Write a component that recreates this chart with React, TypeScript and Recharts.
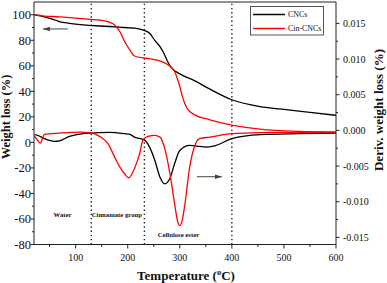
import React from "react";
import { ComposedChart, Line, XAxis, YAxis, ReferenceLine, Legend } from "recharts";

const FONT = "'Liberation Serif', 'Times New Roman', serif";

// weight loss (%) - left axis
const cncWeightTemp = [21, 40, 60, 70, 88, 100, 127, 146, 165, 185, 204, 213, 233, 242, 252, 262, 271, 276, 285, 300, 329, 358, 400, 454, 492, 550, 600];
const cncWeight = [100, 98.4, 95.9, 94.5, 93.3, 92.6, 91.7, 91.2, 90.8, 90.3, 89.7, 89.5, 87.5, 85.5, 80, 75, 68.5, 63.8, 58, 53.7, 48.2, 41.7, 33.4, 28.1, 26.2, 23.5, 21.2];

const cinWeightTemp = [21, 40, 69, 100, 127, 146, 165, 175, 185, 194, 204, 213, 233, 262, 280, 290, 300, 306, 315, 329, 358, 400, 454, 531, 600];
const cinWeight = [100, 99, 98.4, 97.3, 96.4, 95.9, 94.2, 92, 86.7, 79, 72.4, 67.7, 66, 63.8, 60, 55.5, 43.8, 34.7, 26, 21.6, 17.7, 13.5, 10.4, 8.6, 8.1];

// derivative weight loss - right axis
const cncDerivTemp = [21, 27, 40, 60, 69, 88, 127, 165, 194, 204, 213, 233, 242, 252, 262, 271, 281, 290, 300, 319, 338, 350, 365, 400, 454, 531, 600];
const cncDeriv = [-0.0006, -0.0007, -0.00117, -0.00154, -0.00147, -0.00084, -0.00038, -0.00028, -0.00046, -0.00056, -0.00094, -0.0014, -0.00235, -0.0042, -0.00656, -0.00749, -0.00674, -0.00468, -0.00281, -0.00211, -0.00225, -0.00235, -0.0022, -0.00117, -0.0006, -0.00046, -0.00038];

const cinDerivTemp = [21, 27, 32, 40, 69, 108, 127, 146, 162, 175, 185, 194, 202, 213, 223, 229, 239, 252, 262, 271, 281, 290, 295, 300, 305, 310, 319, 329, 338, 358, 400, 454, 600];
const cinDeriv = [-0.0008, -0.0014, -0.0018, -0.00056, -0.00038, -0.00024, -0.00032, -0.00084, -0.00187, -0.00375, -0.00515, -0.00608, -0.00667, -0.00534, -0.00323, -0.0014, -0.00084, -0.0007, -0.00094, -0.00253, -0.00604, -0.01025, -0.0125, -0.01334, -0.0125, -0.01025, -0.00515, -0.00211, -0.00117, -0.00094, -0.00046, -0.00032, -0.00024];

const legendNames = ["CNCs", "Cin-CNCs"];
const xTicks = [50, 100, 150, 200, 250, 300, 350, 400, 450, 500, 550, 600];
const leftTicks = [-80, -70, -60, -50, -40, -30, -20, -10, 0, 10, 20, 30, 40, 50, 60, 70, 80, 90, 100];
const rightTicks = [-0.015, -0.0125, -0.01, -0.0075, -0.005, -0.0025, 0, 0.0025, 0.005, 0.0075, 0.01, 0.0125, 0.015];
const regionLines = [130, 232, 400];

const toPoints = (t: number[], v: number[]) => t.map((x, i) => ({ t: x, v: v[i] }));

const AXIS = "#222";

const XTick = ({ x, y, payload }: any) => {
  const major = payload.value % 100 === 0;
  return (
    <g>
      <line x1={x} y1={y} x2={x} y2={y + (major ? 4 : 2.5)} stroke={AXIS} />
      {major && (
        <text x={x} y={y + 16.5} textAnchor="middle" fontSize={10} fontFamily={FONT} fill="#111">
          {payload.value}
        </text>
      )}
    </g>
  );
};

const LeftTick = ({ x, y, payload }: any) => {
  const major = payload.value % 20 === 0;
  return (
    <g>
      <line x1={x} y1={y} x2={x - (major ? 3.5 : 2)} y2={y} stroke={AXIS} />
      {major && (
        <text x={x - 3} y={y + 4.3} textAnchor="end" fontSize={12.5} fontFamily={FONT} fill="#111">
          {payload.value}
        </text>
      )}
    </g>
  );
};

const RightTick = ({ x, y, payload }: any) => {
  const major = Math.round(payload.value * 10000) % 50 === 0;
  return (
    <g>
      <line x1={x} y1={y} x2={x + (major ? 3.5 : 2)} y2={y} stroke={AXIS} />
      {major && (
        <text x={x + 7} y={y + 3.5} textAnchor="start" fontSize={10} fontFamily={FONT} fill="#111">
          {payload.value.toFixed(3)}
        </text>
      )}
    </g>
  );
};

const Arrow = (props: any) => {
  const { x1, y1, x2, y2 } = props;
  const dir = Math.sign(x2 - x1);
  return (
    <g>
      <line x1={x1} y1={y1} x2={x2} y2={y2} stroke="#444" strokeWidth={1} />
      <path d={`M${x2},${y2} l${-dir * 7},-2.2 l0,4.4 z`} fill="#444" />
    </g>
  );
};

const LegendBox = ({ payload }: any) => {
  const items = legendNames
    .map((n) => (payload ?? []).find((p: any) => p.value === n))
    .filter(Boolean);
  return (
    <svg width={80} height={30} style={{ display: "block", overflow: "visible" }}>
      <rect x={0.5} y={0.5} width={73} height={28.5} fill="#fff" stroke="#555" />
      {items.map((p: any, i: number) => (
        <g key={p.value}>
          <line x1={3} y1={8.5 + i * 14} x2={35} y2={8.5 + i * 14} stroke={p.color} strokeWidth={1.5} />
          <text x={38} y={11.3 + i * 14} fontSize={7.9} fontFamily={FONT} fill="#111">
            {p.value}
          </text>
        </g>
      ))}
    </svg>
  );
};

export default function App() {
  return (
    <div style={{ position: "absolute", left: 0, top: 0, width: 387, height: 283, background: "#fff" }}>
      <ComposedChart width={387} height={283} margin={{ top: 2, right: 0, bottom: 0, left: 0 }}>
        <XAxis
          type="number"
          dataKey="t"
          domain={[20, 600]}
          ticks={xTicks}
          interval={0}
          height={38.5}
          tickSize={0}
          tickMargin={0}
          tickLine={false}
          tick={<XTick />}
          axisLine={{ stroke: AXIS }}
          allowDataOverflow
        />
        <YAxis
          yAxisId="left"
          domain={[-80, 110]}
          ticks={leftTicks}
          interval={0}
          width={34}
          tickSize={0}
          tickMargin={0}
          tickLine={false}
          tick={<LeftTick />}
          axisLine={{ stroke: AXIS }}
          allowDataOverflow
        />
        <YAxis
          yAxisId="right"
          orientation="right"
          domain={[-0.016, 0.018]}
          ticks={rightTicks}
          interval={0}
          width={51}
          tickSize={0}
          tickMargin={0}
          tickLine={false}
          tick={<RightTick />}
          axisLine={{ stroke: AXIS }}
          allowDataOverflow
        />
        <ReferenceLine yAxisId="left" y={110} stroke={AXIS} />
        {regionLines.map((t) => (
          <ReferenceLine key={t} yAxisId="left" x={t} stroke="#222" strokeWidth={1.4} strokeDasharray="1.4 2.8" />
        ))}
        <ReferenceLine
          yAxisId="left"
          segment={[{ x: 85, y: 88.9 }, { x: 37, y: 88.9 }]}
          shape={<Arrow />}
        />
        <ReferenceLine
          yAxisId="left"
          segment={[{ x: 333, y: -26.9 }, { x: 381, y: -26.9 }]}
          shape={<Arrow />}
        />
        <Line
          yAxisId="left"
          data={toPoints(cncWeightTemp, cncWeight)}
          dataKey="v"
          name="CNCs"
          type="monotone"
          stroke="#000"
          strokeWidth={1.3}
          dot={false}
          isAnimationActive={false}
        />
        <Line
          yAxisId="left"
          data={toPoints(cinWeightTemp, cinWeight)}
          dataKey="v"
          name="Cin-CNCs"
          type="monotone"
          stroke="#ff0000"
          strokeWidth={1.3}
          dot={false}
          isAnimationActive={false}
        />
        <Line
          yAxisId="right"
          data={toPoints(cncDerivTemp, cncDeriv)}
          dataKey="v"
          name="CNCs deriv"
          legendType="none"
          type="monotone"
          stroke="#000"
          strokeWidth={1.3}
          dot={false}
          isAnimationActive={false}
        />
        <Line
          yAxisId="right"
          data={toPoints(cinDerivTemp, cinDeriv)}
          dataKey="v"
          name="Cin-CNCs deriv"
          legendType="none"
          type="monotone"
          stroke="#ff0000"
          strokeWidth={1.3}
          dot={false}
          isAnimationActive={false}
        />
        <Legend
          layout="vertical"
          align="center"
          verticalAlign="middle"
          content={<LegendBox />}
          wrapperStyle={{ left: 250, top: 6, width: 80, height: 30 }}
        />
      </ComposedChart>
      <svg
        width={387}
        height={283}
        style={{ position: "absolute", left: 0, top: 0, pointerEvents: "none" }}
        fontFamily={FONT}
      >
        <text transform="translate(10,117) rotate(-90)" textAnchor="middle" fontSize={12.5} fontWeight="bold" fill="#111">
          Weight loss (%)
        </text>
        <text transform="translate(383,110) rotate(-90)" textAnchor="middle" fontSize={13} fontWeight="bold" fill="#111">
          Deriv. weight loss (%)
        </text>
        <text x={186} y={280} textAnchor="middle" fontSize={13} fontWeight="bold" fill="#111">
          Temperature (<tspan dy={-5} fontSize={8.5}>o</tspan>
          <tspan dy={5}>C)</tspan>
        </text>
        <text x={62.5} y={216.5} textAnchor="middle" fontSize={6.7} fontWeight="bold" fill="#111">
          Water
        </text>
        <text x={91.7} y={216.5} fontSize={6.7} fontWeight="bold" fill="#111">
          Cinnamate group
        </text>
        <text x={157.7} y={236.5} fontSize={6.7} fontWeight="bold" fill="#111">
          Cellulose ester
        </text>
      </svg>
    </div>
  );
}
